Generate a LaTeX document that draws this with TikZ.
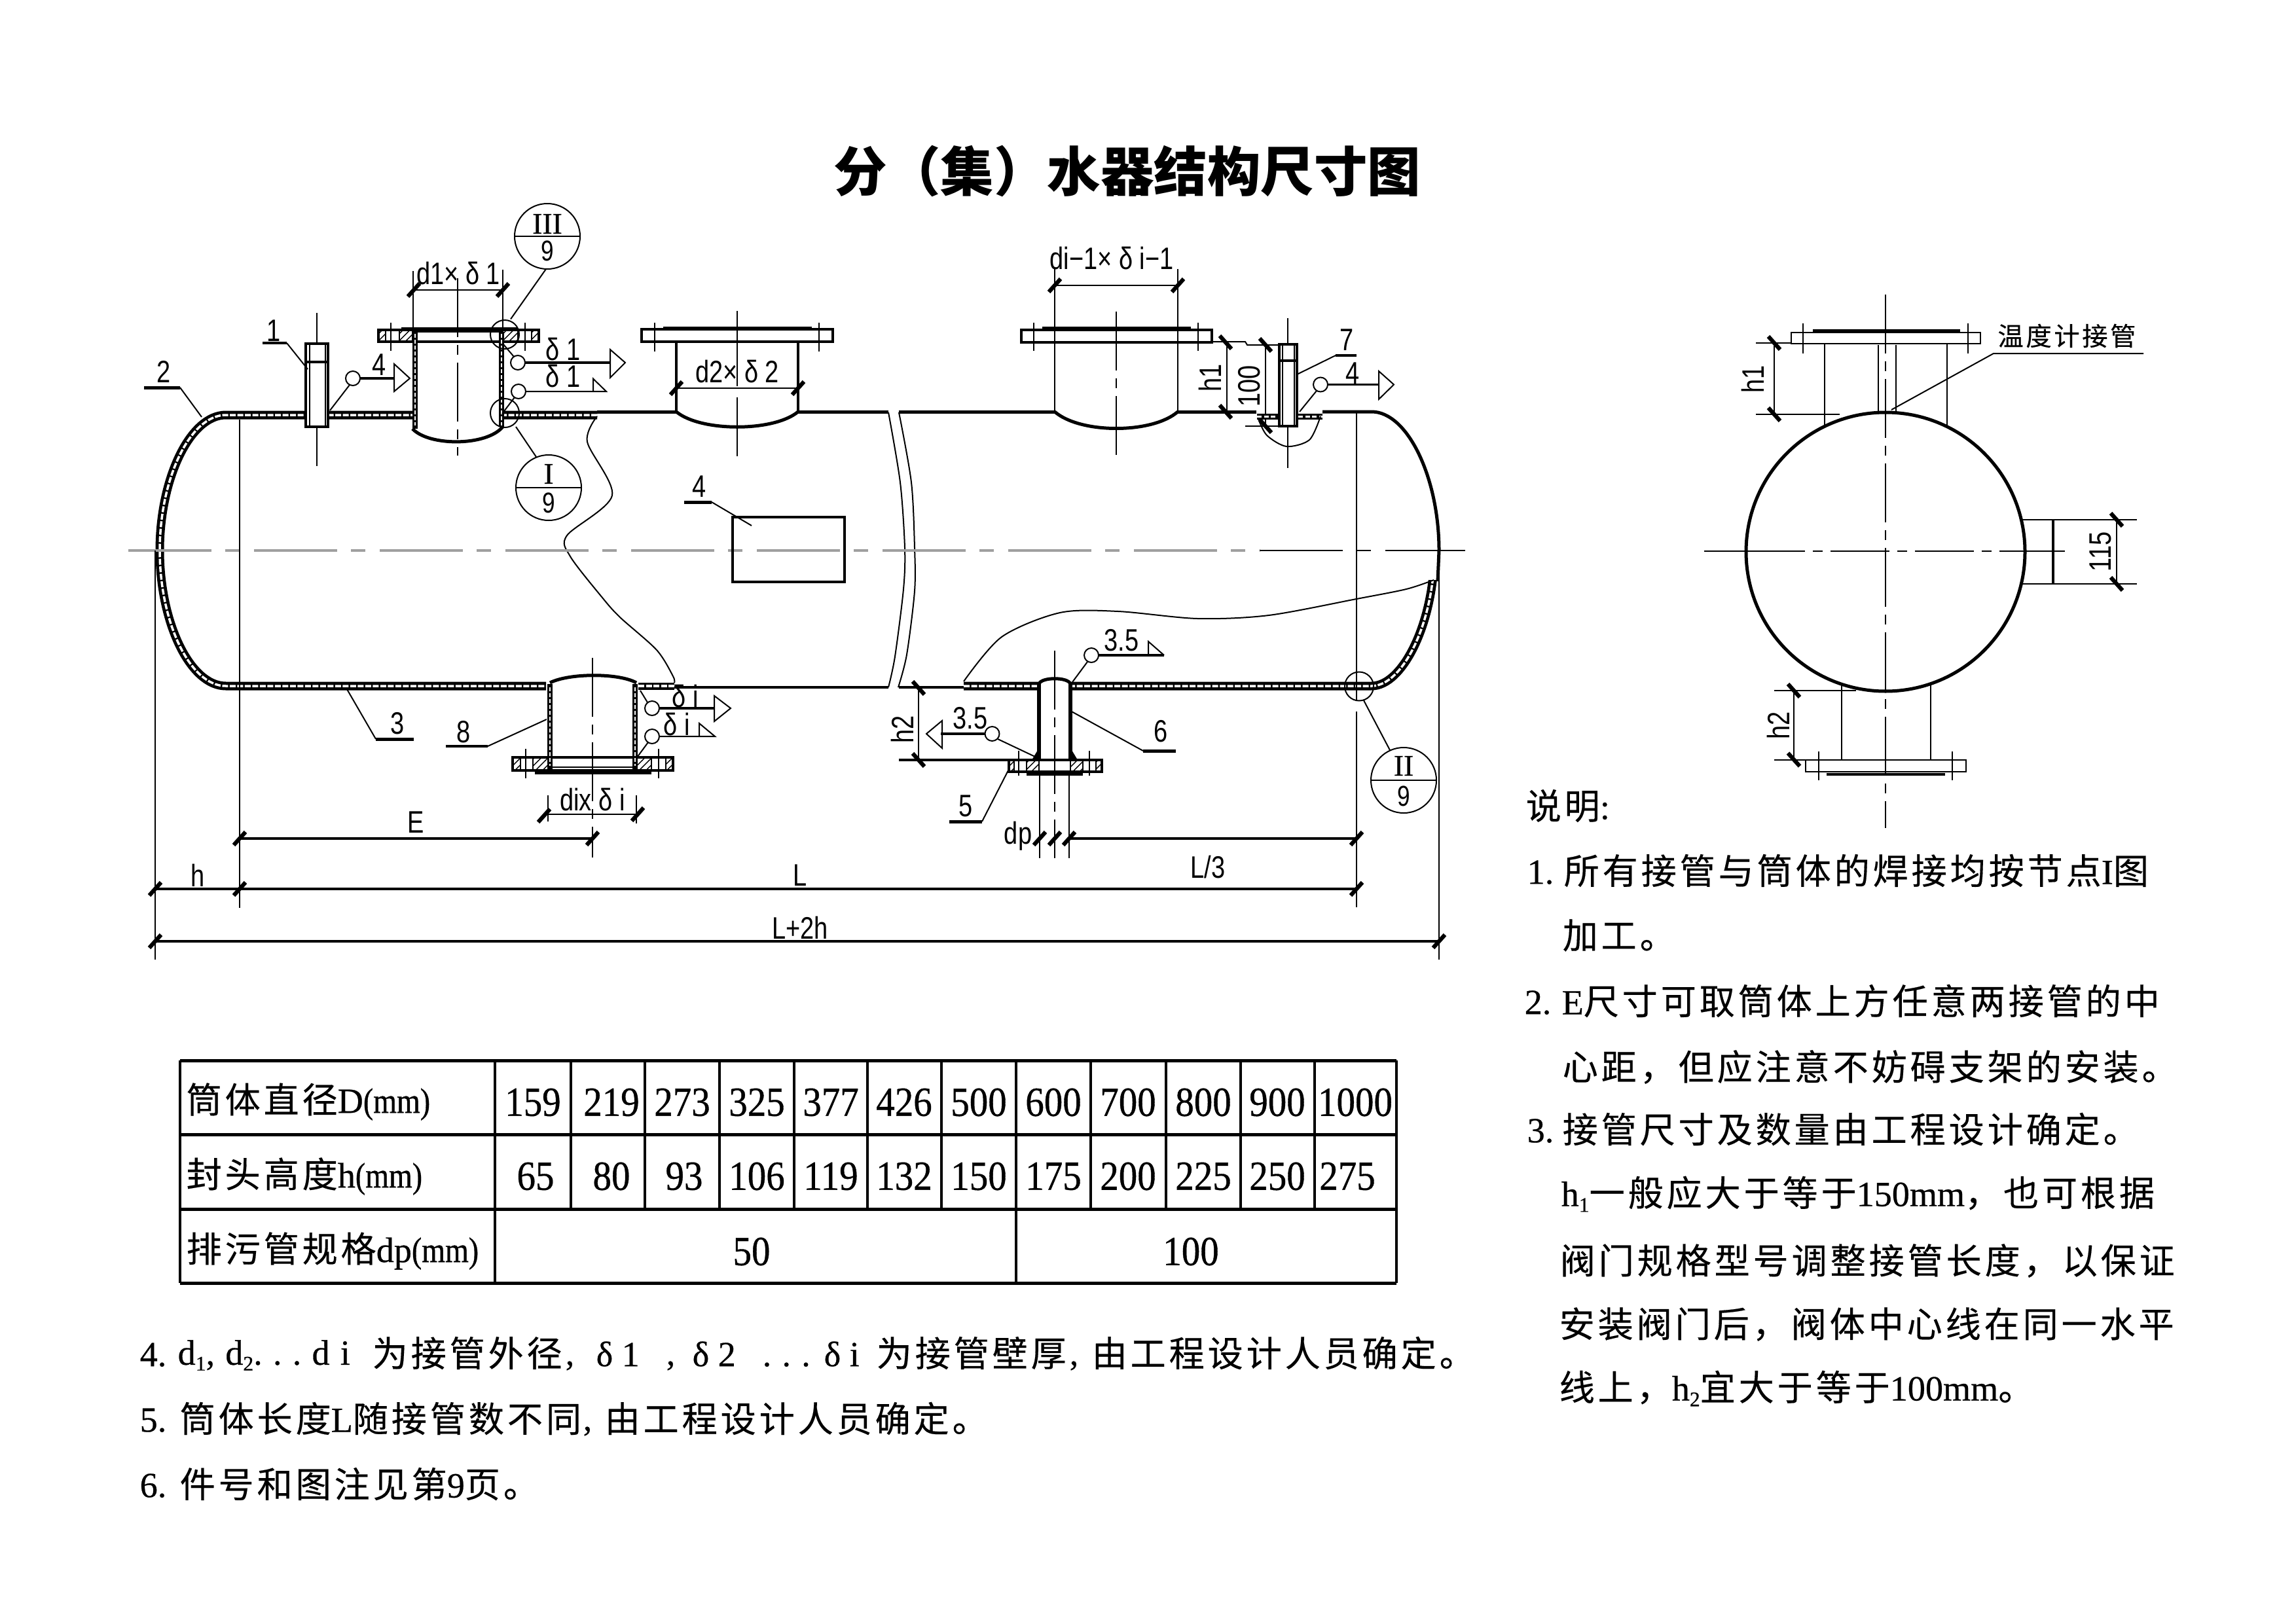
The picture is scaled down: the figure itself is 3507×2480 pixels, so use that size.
\documentclass[tikz,border=0pt]{standalone}
\usepackage{fontspec}
\usetikzlibrary{patterns}
\setmainfont{Liberation Serif}
\newfontfamily\cjk[LetterSpace=9,FakeBold=0.3]{Noto Sans CJK SC}
\newfontfamily\cjkplain{Noto Sans CJK SC}
\newfontfamily\latn[FakeBold=0.5]{Liberation Serif}
\newfontfamily\latw[LetterSpace=30,FakeBold=0.5]{Liberation Serif}
\newfontfamily\latc[FakeStretch=0.85,FakeBold=0.6]{Liberation Serif}
\newfontfamily\latd[FakeStretch=0.9,FakeBold=0.6]{Liberation Serif}
\newfontfamily\dimf[FakeStretch=0.8]{Liberation Sans}
\newcommand\dimfont{\dimf\fontsize{13.5}{14}\selectfont}
\newcommand\notefont{\cjk\fontsize{15.4}{16}\selectfont}
\newcommand\LL[1]{{\latn #1}}
\newcommand\subs[1]{{\latn\fontsize{9}{9}\selectfont\raisebox{-2.5pt}{#1}}}
\newcommand\mmu{{\latc (mm)}}
\tikzset{
  thinl/.style={line width=0.2mm},
  medl/.style={line width=0.32mm},
  thickl/.style={line width=0.5mm},
  cl/.style={line width=0.2mm,dash pattern=on 9mm off 1.2mm on 1.5mm off 1.2mm},
  tickst/.style={line width=0.62mm},
  dimtxt/.style={font=\dimfont,inner sep=0},
  note/.style={font=\notefont,inner sep=0,anchor=west,execute at begin node={\vphantom{汉}}},
  numt/.style={font=\latd\fontsize{18}{18}\selectfont,inner sep=0},
  rmt/.style={font=\latn\fontsize{13}{13}\selectfont,inner sep=0},
  ninet/.style={font=\dimf\fontsize{12.5}{13}\selectfont,inner sep=0},
  hatchb/.style={line width=0.18mm,pattern=north east lines},
  bandb/.style={line width=1.3mm,black},
  bandw/.style={line width=0.35mm,white,dash pattern=on 0.9mm off 0.25mm}
}
\newcommand\tk[2]{\draw[tickst] (#1-9,#2+10) -- (#1+9,#2-10);}
\newcommand\tkv[2]{\draw[tickst] (#1-9,#2-10) -- (#1+9,#2+10);}
\newcommand\wc[2]{\draw[thinl,fill=white] (#1,#2) circle [radius=11];}
\newcommand\hb[4]{\draw[hatchb] (#1,#2) rectangle (#3,#4);}
\begin{document}
\begin{tikzpicture}[x=0.1mm,y=-0.1mm]
\useasboundingbox (0,0) rectangle (3507,2480);
\fill[white] (0,0) rectangle (3507,2480);

\node[inner sep=0,font=\cjkplain\bfseries\fontsize{23.2}{24}\selectfont] (title) at (1722,262) {分（集）水器结构尺寸图};

%--- shell bands
\draw[bandb] (912,634) -- (345,634) .. controls (290,634) and (244,732) .. (244,841) .. controls (244,950) and (290,1048) .. (345,1048) -- (834,1048);
\draw[bandw] (912,634) -- (345,634) .. controls (290,634) and (244,732) .. (244,841) .. controls (244,950) and (290,1048) .. (345,1048) -- (834,1048);
\draw[line width=1.1mm] (975,1048) -- (1030,1048);
\draw[bandw] (975,1048) -- (1030,1048);
\begin{scope}
\clip (1400,886) rectangle (2300,1100);
\draw[bandb] (1472,1048) -- (2095,1048) .. controls (2143,1048) and (2191,950) .. (2191,841);
\draw[bandw] (1472,1048) -- (2095,1048) .. controls (2143,1048) and (2191,950) .. (2191,841);
\end{scope}
%--- single lines
\draw[thickl] (912,629) -- (1033,629);
\draw[thickl] (1219,629) -- (1357,629);
\draw[thickl] (1373,629) -- (1611,629);
\draw[thickl] (1799,629) -- (1919,629);
\draw[thickl] (2020,629) -- (2095,629) .. controls (2150,629) and (2198,730) .. (2198,841) -- (2196,888);
\draw[medl] (1030,1050) -- (1357,1050);
\draw[medl] (1373,1050) -- (1472,1050);
% breaks
\draw[thinl] plot[smooth] coordinates {(1357,630) (1375,737) (1382,837) (1380,900) (1367,1003) (1357,1050)};
\draw[thinl] plot[smooth] coordinates {(1373,630) (1392,737) (1397,837) (1397,903) (1385,1000) (1372,1050)};
% breakout curves
\draw[thinl] plot[smooth] coordinates {(912,636) (897,675) (935,757) (866,818) (871,850) (920,913) (947,943) (1003,993) (1028,1033) (1030,1043)};
\draw[thinl] plot[smooth] coordinates {(1472,1041) (1530,973) (1619,936) (1708,934) (1829,945) (1938,940) (2072,915) (2148,900) (2190,886)};

%--- extension and centre lines of main view
\draw[line width=0.33mm,gray!75,dash pattern=on 12.7mm off 2.1mm on 2.2mm off 2.2mm] (196,841) -- (1924,841);
\draw[thinl,dash pattern=on 12.7mm off 2.1mm on 2.2mm off 2.2mm] (1924,841) -- (2238,841);
\draw[thinl] (237,841) -- (237,1466);
\draw[thinl] (366,641) -- (366,1387);
\draw[thinl] (2072,629) -- (2072,1071);
\draw[thinl] (2072,1087) -- (2072,1386);
\draw[thinl] (2198,841) -- (2198,1466);

%--- nozzle 1 (thermowell)
\draw[thinl] (484,478) -- (484,712);
\draw[medl,fill=white] (467,525) rectangle (501,652);
\draw[line width=0.4mm] (467,553) -- (501,553);
\draw[thinl] (473,553) -- (473,652);
\draw[thinl] (497,525) -- (497,652);
\draw[thinl] (473,525) -- (473,553);

%--- nozzle d1
\fill[white] (630,505) rectangle (768,660);
\draw[thinl] (630.5,414) -- (630.5,504);
\draw[thinl] (768,412) -- (768,504);
\draw[cl] (699,425) -- (699,696);
\draw[medl] (578,504) rectangle (823,522);
\draw[thickl] (613,502) -- (791,502);
\draw[thinl] (630,507) -- (768,507);
\hb{610}{504}{630}{522} \hb{768}{504}{791}{522}
\hb{578}{504}{589}{522} \hb{812}{504}{823}{522}
\draw[thinl] (597,493) -- (597,536);
\draw[thinl] (802,493) -- (802,536);
\draw[line width=0.75mm] (634,507) -- (634,655);
\draw[line width=0.75mm] (766,507) -- (766,652);
\draw[line width=0.2mm,white,dash pattern=on 0.6mm off 0.3mm] (634,510) -- (634,650);
\draw[line width=0.2mm,white,dash pattern=on 0.6mm off 0.3mm] (766,510) -- (766,650);
\draw[thickl] (630,655) .. controls (655,682) and (743,682) .. (768,652);
\draw[thinl] (630.5,443) -- (768,443);
\tk{632}{443} \tk{768}{443}
\node[dimtxt] (td1) at (700,418) {d1× δ 1};

%--- nozzle d2
\draw[medl,fill=white] (980,503) rectangle (1272,522);
\draw[thickl] (1013,501) -- (1240,501);
\draw[thinl] (1000,493) -- (1000,537);
\draw[thinl] (1251,493) -- (1251,537);
\draw[thinl] (1126,475) -- (1126,590);
\draw[thinl] (1126,607) -- (1126,697);
\draw[medl] (1033,522) -- (1033,629);
\draw[medl] (1219,522) -- (1219,629);
\draw[thickl] (1033,629) .. controls (1070,660) and (1182,660) .. (1219,629);
\draw[thinl] (1033,593) -- (1219,593);
\tk{1033}{593} \tk{1219}{593}
\node[dimtxt] (td2) at (1126,568) {d2× δ 2};

%--- nozzle di-1
\draw[thinl] (1611,411) -- (1611,629);
\draw[thinl] (1799,411) -- (1799,629);
\draw[cl] (1705,476) -- (1705,697);
\draw[medl] (1560,504) rectangle (1851,523);
\draw[thickl] (1592,501) -- (1819,501);
\draw[thinl] (1579,493) -- (1579,536);
\draw[thinl] (1830,493) -- (1830,536);
\draw[thickl] (1611,629) .. controls (1650,663) and (1760,663) .. (1799,629);
\draw[thinl] (1611,436) -- (1799,436);
\tk{1611}{436} \tk{1799}{436}
\node[dimtxt] (tdi1) at (1698,395) {di−1× δ i−1};

%--- h1 / 100 dims
\draw[thinl] (1851,522) -- (1902,522) -- (1905,527) -- (1954,527);
\draw[thinl] (1874,523) -- (1874,629);
\tkv{1872}{523} \tkv{1872}{629}
\draw[thinl] (1933,527) -- (1933,651);
\tkv{1933}{527} \tkv{1933}{651}
\draw[thinl] (1902,651) -- (1954,651);
\node[dimtxt,rotate=90] (th1) at (1848,577) {h1};
\node[dimtxt,rotate=90] (t100) at (1908,590) {100};

%--- nozzle 7
\draw[line width=0.9mm] (1920,636) -- (2020,636);
\draw[line width=0.3mm,white,dash pattern=on 0.7mm off 0.35mm] (1920,636) -- (2020,636);
\draw[thinl] plot[smooth] coordinates {(1922,640) (1935,665) (1965,682) (2000,672) (2017,636)};
\draw[thinl] (1967,486) -- (1967,715);
\draw[medl,fill=white] (1954,526) rectangle (1981,651);
\draw[line width=0.4mm] (1954,551) -- (1981,551);
\draw[thinl] (1959,526) -- (1959,651);
\draw[thinl] (1977,526) -- (1977,651);
\node[dimtxt] (t7) at (2057,519) {7};
\draw[medl] (2040,543) -- (2072,543);
\draw[thinl] (2040,543) -- (1981,572);
\wc{2017}{587.5}
\draw[thinl] (1985,629) -- (2011,597);
\draw[medl] (2028,587.5) -- (2106,587.5);
\draw[thinl] (2106,567) -- (2129,587.5) -- (2106,610) -- cycle;
\node[dimtxt] (t4c) at (2066,570) {4};

%--- welds near d1
\draw[thinl] (771,511) circle [radius=22];
\draw[thinl] (771,631) circle [radius=22];
\wc{791}{554}
\draw[thinl] (768,525) -- (785,545);
\draw[medl] (802,554) -- (932,554);
\draw[thinl] (932,534) -- (955,554) -- (932,577) -- cycle;
\node[dimtxt] (td1a) at (860,534) {δ 1};
\wc{792}{598}
\draw[thinl] (767,632) -- (786,607);
\draw[thinl] (803,598) -- (926,598) -- (906,578.6) -- (906,598);
\node[dimtxt] (td1b) at (860,575) {δ 1};
\wc{539}{578}
\draw[thinl] (504,627) -- (534,588);
\draw[medl] (550,578) -- (602,578);
\draw[thinl] (602,556) -- (626,578) -- (602,598) -- cycle;
\node[dimtxt] (t4a) at (579,557) {4};

%--- part labels with leaders
\node[dimtxt] (t1) at (418,505) {1};
\draw[medl] (401,524) -- (438,524);
\draw[thinl] (438,524) -- (470,564);
\node[dimtxt] (t2) at (250,568) {2};
\draw[thickl] (220,592) -- (275,592);
\draw[thinl] (275,592) -- (308,637);
\node[dimtxt] (t3) at (607,1105) {3};
\draw[thickl] (574,1129) -- (632,1129);
\draw[thinl] (574,1129) -- (530,1053);
\node[dimtxt] (t8) at (708,1118) {8};
\draw[medl] (681,1140) -- (745,1140);
\draw[thinl] (745,1140) -- (837,1098);
\node[dimtxt] (t6) at (1773,1117) {6};
\draw[thickl] (1746,1147) -- (1796,1147);
\draw[thinl] (1746,1147) -- (1635,1086);
\node[dimtxt] (t5) at (1475,1231) {5};
\draw[thickl] (1450,1255) -- (1500,1255);
\draw[thinl] (1500,1255) -- (1541,1175);
\node[dimtxt] (t4b) at (1068,743) {4};
\draw[thickl] (1045,767) -- (1087,767);
\draw[thinl] (1087,767) -- (1148,803);
\draw[line width=0.45mm] (1119,790) rectangle (1290,889);

%--- reference circles
\draw[thinl] (836,361) circle [radius=50];
\draw[thinl] (786,361) -- (886,361);
\node[rmt] (t3r) at (836,342) {III};
\node[ninet] (t3n) at (836,383) {9};
\draw[thinl] (834,411) -- (780,487.5);
\draw[thinl] (838,745) circle [radius=50];
\draw[thinl] (788,745) -- (888,745);
\node[rmt] (t1r) at (838,724) {I};
\node[ninet] (t1n) at (838,768) {9};
\draw[thinl] (819,698) -- (788,652);
\draw[thinl] (2076,1048.5) circle [radius=22];
\draw[thinl] (2144,1192) circle [radius=50];
\draw[thinl] (2094,1192) -- (2194,1192);
\node[rmt] (t2r) at (2144,1170) {II};
\node[ninet] (t2n) at (2144,1216) {9};
\draw[thinl] (2083,1070) -- (2123,1146);

%--- nozzle 8 (bottom)
\fill[white] (835,1036) rectangle (975,1175);
\draw[thickl] (840,1043) .. controls (870,1028) and (945,1028) .. (972,1043);
\draw[cl] (905,1005) -- (905,1310);
\draw[medl] (783,1157) rectangle (1028,1177);
\hb{814}{1157}{840}{1177} \hb{972}{1157}{995}{1177}
\hb{783}{1157}{795}{1177} \hb{1017}{1157}{1028}{1177}
\draw[thickl] (817,1180) -- (995,1180);
\draw[thinl] (837,1172) -- (972,1172);
\draw[thinl] (803,1144) -- (803,1189);
\draw[thinl] (1006,1144) -- (1006,1189);
\draw[line width=0.75mm] (840,1045) -- (840,1177);
\draw[line width=0.75mm] (970,1045) -- (970,1177);
\draw[line width=0.2mm,white,dash pattern=on 0.6mm off 0.3mm] (840,1050) -- (840,1170);
\draw[line width=0.2mm,white,dash pattern=on 0.6mm off 0.3mm] (970,1050) -- (970,1170);
\wc{996}{1082}
\draw[thinl] (978,1055) -- (989,1073);
\draw[medl] (1007,1082) -- (1091,1082);
\draw[thinl] (1091,1063) -- (1116,1082) -- (1091,1102) -- cycle;
\node[dimtxt,anchor=base west] (tdia) at (1026,1080) {δ i};
\wc{996}{1125}
\draw[thinl] (973,1157) -- (990,1134);
\draw[thinl] (1007,1125) -- (1092,1125) -- (1068,1105) -- (1068,1125);
\node[dimtxt,anchor=base west] (tdib) at (1013,1123) {δ i};
\draw[thinl] (837,1215) -- (837,1255);
\draw[thinl] (972,1215) -- (972,1258);
\draw[thinl] (837,1244) -- (972,1244);
\tk{831}{1246} \tk{974}{1244}
\node[dimtxt] (tdi) at (905,1222) {dix δ i};

%--- dimensions
\draw[medl] (366,1281) -- (905,1281);
\tk{366}{1281} \tk{905}{1281}
\node[dimtxt] (tE) at (635,1256) {E};
\draw[medl] (237,1358) -- (2072,1358);
\tk{237}{1358} \tk{366}{1358} \tk{2072}{1358}
\node[dimtxt] (th) at (302,1337) {h};
\node[dimtxt] (tL) at (1222,1337) {L};
\node[dimtxt] (tL3) at (1845,1325) {L/3};
\draw[medl] (237,1438) -- (2198,1438);
\tk{237}{1438} \tk{2198}{1438}
\node[dimtxt] (tL2h) at (1222,1417) {L+2h};

%--- drain nozzle 6
\fill[white] (1587,1036) rectangle (1635,1160);
\draw[thickl] (1587,1045) .. controls (1590,1034) and (1632,1034) .. (1635,1045);
\draw[cl] (1611,994) -- (1611,1311);
\draw[line width=0.55mm] (1587,1043) -- (1587,1161);
\draw[line width=0.55mm] (1635,1043) -- (1635,1161);
\draw[medl] (1541,1161) rectangle (1683,1179);
\hb{1568}{1161}{1587}{1179} \hb{1635}{1161}{1654}{1179}
\hb{1541}{1161}{1549}{1179} \hb{1674}{1161}{1683}{1179}
\draw[thickl] (1568,1182) -- (1654,1182);
\draw[thinl] (1556,1147) -- (1556,1185);
\draw[thinl] (1663.5,1147) -- (1663.5,1185);
\fill (1635,1161) -- (1646,1161) -- (1637,1146) -- cycle;
\fill (1587,1161) -- (1576,1161) -- (1585,1146) -- cycle;
\draw[thinl] (1588,1179) -- (1588,1311);
\draw[thinl] (1633,1179) -- (1633,1311);
\draw[medl] (1633,1281) -- (2072,1281);
\tk{1588}{1281} \tk{1611}{1281} \tk{1633}{1281} \tk{2072}{1281}
\node[dimtxt] (tdp) at (1555,1277) {dp};
\draw[thinl] (1403,1051) -- (1403,1161);
\draw[medl] (1373,1161) -- (1541,1161);
\tkv{1403}{1051} \tkv{1403}{1161}
\node[dimtxt,rotate=90] (th2) at (1378,1114) {h2};
\wc{1515.5}{1121}
\draw[thinl] (1581,1156) -- (1524,1129);
\draw[medl] (1504,1121) -- (1437,1121);
\draw[thinl] (1439,1101) -- (1415,1121) -- (1439,1143) -- cycle;
\node[dimtxt] (t35a) at (1482,1097) {3.5};
\wc{1667}{1001}
\draw[thinl] (1638,1042) -- (1661,1011);
\draw[medl] (1678,1001) -- (1778,1001);
\draw[thinl] (1778,1001) -- (1754,980) -- (1754,1001);
\node[dimtxt] (t35b) at (1713,978) {3.5};

%--- side view
\draw[cl] (2880,450) -- (2880,1265);
\draw[cl] (2667,842) -- (3140,842);
\draw[thinl] (2603,842) -- (2667,842);
\draw[thinl] (2736,508) rectangle (3025,525);
\draw[medl] (2769,505) -- (2994,505);
\draw[thinl] (2754,494) -- (2754,540);
\draw[thinl] (3006,494) -- (3006,540);
\draw[thinl] (2787,525) -- (2787,650);
\draw[thinl] (2974,525) -- (2974,650);
\draw[thinl] (2869,527) -- (2869,631);
\draw[thinl] (2896,527) -- (2896,631);
\draw[line width=0.5mm] (2880,843) circle [radius=213];
\draw[thinl] (2682,524) -- (2736,524);
\draw[thinl] (2682,633) -- (2810,633);
\draw[thinl] (2710,524) -- (2710,633);
\tkv{2710}{524} \tkv{2710}{633}
\node[dimtxt,rotate=90] (ts1) at (2677,579) {h1};
\node[inner sep=0,font=\cjk\fontsize{11.2}{12}\selectfont] (tsw) at (3157,513) {温度计接管};
\draw[thinl] (3274,540) -- (3045,540) -- (2889,626);
\draw[thinl] (3090,794) -- (3136,794);
\draw[thinl] (3090,892) -- (3136,892);
\draw[medl] (3136,794) -- (3136,892);
\draw[thinl] (3136,794) -- (3264,794);
\draw[thinl] (3136,892) -- (3264,892);
\draw[thinl] (3233,794) -- (3233,892);
\tkv{3233}{794} \tkv{3233}{892}
\draw[thinl] (3140,842) -- (3154,842);
\node[dimtxt,rotate=90] (ts115) at (3208,843) {115};
\draw[thinl] (2812.5,1047) -- (2812.5,1160);
\draw[thinl] (2949,1045) -- (2949,1160);
\draw[thinl] (2758,1160.5) rectangle (3003,1179);
\draw[medl] (2790,1183) -- (2971,1183);
\draw[thinl] (2778,1148) -- (2778,1192);
\draw[thinl] (2982,1148) -- (2982,1192);
\draw[thinl] (2710,1055) -- (2835,1055);
\draw[thinl] (2710,1160.5) -- (2758,1160.5);
\draw[thinl] (2740,1055) -- (2740,1160.5);
\tkv{2740}{1055} \tkv{2740}{1160.5}
\node[dimtxt,rotate=90] (ts2) at (2716,1108) {h2};

%--- table
\draw[thickl] (275,1620) -- (2133,1620);
\draw[thickl] (275,1733) -- (2133,1733);
\draw[thickl] (275,1847) -- (2133,1847);
\draw[thickl] (275,1960) -- (2133,1960);
\draw[medl] (275,1620) -- (275,1960);
\draw[medl] (756,1620) -- (756,1960);
\draw[medl] (1552,1620) -- (1552,1960);
\draw[medl] (2133,1620) -- (2133,1960);
\foreach \x in {872,985,1099,1213,1325,1438,1666,1781,1895,2008} \draw[medl] (\x,1620) -- (\x,1847);
\node[note] (ra) at (284,1683) {筒体直径\LL{D}\mmu};
\node[note] (rb) at (284,1797) {封头高度\LL{h}\mmu};
\node[note] (rc) at (284,1911) {排污管规格\LL{dp}\mmu};
\foreach \c/\t in {814/159,934/219,1042/273,1156/325,1269/377,1381/426,1495/500,1609/600,1723/700,1838/800,1951/900,2070/1000}
  \node[numt] (a\t) at (\c,1684) {\t};
\foreach \c/\t in {818/65,934/80,1045/93,1156/106,1269/119,1381/132,1495/150,1609/175,1723/200,1838/225,1951/250,2058/275}
  \node[numt] (b\t) at (\c,1797) {\t};
\node[numt] (c50) at (1148,1912) {50};
\node[numt] (c100) at (1819,1912) {100};

%--- notes bottom left
\node[note] (n4a) at (213,2067) {\LL{4.}};
\node[note] (n4b) at (271,2067) {{\latw d\subs{1},d\subs{2}...di}};
\node[note] (n4c) at (568,2067) {为接管外径};
\node[note] (n4d) at (863,2067) {\LL{,}};
\node[note] (n4e) at (910,2067) {\LL{δ 1}};
\node[note] (n4f) at (1017,2067) {\LL{,}};
\node[note] (n4g) at (1057,2067) {\LL{δ 2}};
\node[note] (n4h) at (1164,2067) {{\latw ...}};
\node[note] (n4i) at (1258,2067) {\LL{δ i}};
\node[note] (n4j) at (1338,2067) {为接管壁厚};
\node[note] (n4k) at (1633,2067) {\LL{,}};
\node[note] (n4l) at (1667,2067) {由工程设计人员确定。};
\node[note] (n5a) at (213,2167) {\LL{5.}};
\node[note] (n5b) at (274,2167) {筒体长度\LL{L}随接管数不同};
\node[note] (n5c) at (890,2167) {\LL{,}};
\node[note] (n5d) at (923,2167) {由工程设计人员确定。};
\node[note] (n6a) at (213,2267) {\LL{6.}};
\node[note] (n6b) at (274,2267) {件号和图注见第\LL{9}页。};

%--- notes right
\node[note] (m0) at (2330,1231) {说明\LL{:}};
\node[note] (m1a) at (2332,1330) {\LL{1.}};
\node[note] (m1b) at (2388,1330) {所有接管与筒体的焊接均按节点\LL{I}图};
\node[note] (m2) at (2386,1429) {加工。};
\node[note] (m3a) at (2328,1529) {\LL{2.}};
\node[note] (m3b) at (2385,1529) {\LL{E}尺寸可取筒体上方任意两接管的中};
\node[note] (m4) at (2386,1630) {心距，但应注意不妨碍支架的安装。};
\node[note] (m5a) at (2332,1725) {\LL{3.}};
\node[note] (m5b) at (2386,1725) {接管尺寸及数量由工程设计确定。};
\node[note] (m6) at (2384,1824) {\LL{h}\subs{1}一般应大于等于\LL{150mm}，也可根据};
\node[note] (m7) at (2382,1926) {阀门规格型号调整接管长度，以保证};
\node[note] (m8) at (2381,2023) {安装阀门后，阀体中心线在同一水平};
\node[note] (m9) at (2381,2121) {线上，\LL{h}\subs{2}宜大于等于\LL{100mm}。};
\end{tikzpicture}
\end{document}
